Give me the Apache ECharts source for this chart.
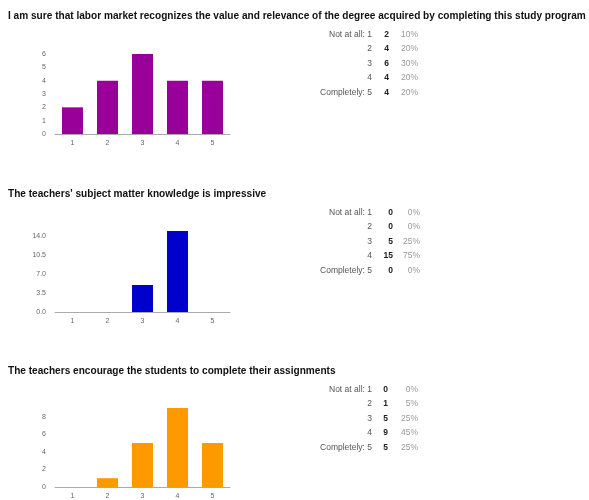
<!DOCTYPE html>
<html>
<head>
<meta charset="utf-8">
<script src="https://cdn.jsdelivr.net/npm/echarts@6/dist/echarts.min.js"></script>
<style>
html,body{margin:0;padding:0;background:#fff;}
#chart{width:589px;height:500px;}
</style>
</head>
<body>
<div id="chart"></div>
<script>
const categories = ['1', '2', '3', '4', '5'];
const rowLabels = ['Not at all: 1', '2', '3', '4', 'Completely: 5'];
const titles = [
  'I am sure that labor market recognizes the value and relevance of the degree acquired by completing this study program',
  "The teachers' subject matter knowledge is impressive",
  'The teachers encourage the students to complete their assignments'
];
const counts1 = [2, 4, 6, 4, 4];
const counts2 = [0, 0, 5, 15, 0];
const counts3 = [0, 1, 5, 9, 5];
const yMax = [6, 15, 9];
const yStep = [1, 3.5, 2];
const yDecimals = [0, 1, 0];
const colors = ['#990099', '#0000cc', '#ff9900'];

const allCounts = [counts1, counts2, counts3];

// layout (pixels)
const titleY = [15, 193, 370];
const gridTop = [54, 231, 408];
const gridH = [80, 81, 82];
const tableTop = [34.5, 212.5, 389.5];
const rowGap = 14.5;
const countX = [389, 393, 388];
const pctX = [418, 420, 418];

const font = 'Arial, "Liberation Sans", sans-serif';

const title = titles.map((t, i) => ({
  text: t,
  left: 8,
  top: titleY[i] - 4,
  padding: 0,
  textStyle: { fontFamily: font, fontSize: 10.1, fontWeight: 'bold', color: '#111' }
}));

const grid = [0, 1, 2].map(i => ({
  left: 55, width: 175, top: gridTop[i], height: gridH[i], containLabel: false
}));

const xAxis = [0, 1, 2].map(i => ({
  type: 'category',
  gridIndex: i,
  data: categories,
  axisLine: { show: true, lineStyle: { color: '#aaa', width: 1 } },
  axisTick: { show: false },
  axisLabel: { fontFamily: font, fontSize: 7, color: '#666', margin: 6 }
}));

const yAxis = [0, 1, 2].map(i => ({
  type: 'value',
  gridIndex: i,
  min: 0,
  max: yMax[i],
  interval: yStep[i],
  axisLine: { show: false },
  axisTick: { show: false },
  splitLine: { show: false },
  axisLabel: {
    fontFamily: font, fontSize: 7, color: '#666', margin: 9,
    showMaxLabel: (yMax[i] / yStep[i]) % 1 === 0,
    formatter: v => Number(v).toFixed(yDecimals[i])
  }
}));

const series = allCounts.map((d, i) => ({
  type: 'bar',
  xAxisIndex: i,
  yAxisIndex: i,
  data: d,
  barCategoryGap: '40%',
  itemStyle: { color: colors[i] },
  silent: true
}));

const graphic = [];
allCounts.forEach((d, i) => {
  const total = d.reduce((a, b) => a + b, 0);
  d.forEach((c, r) => {
    const y = tableTop[i] + r * rowGap;
    graphic.push({
      type: 'text', x: 372, y: y,
      style: { text: rowLabels[r], fontFamily: font, fontSize: 8.5, fill: '#555', align: 'right', verticalAlign: 'middle' }
    });
    graphic.push({
      type: 'text', x: countX[i], y: y,
      style: { text: String(c), fontFamily: font, fontSize: 8.5, fontWeight: 'bold', fill: '#222', align: 'right', verticalAlign: 'middle' }
    });
    graphic.push({
      type: 'text', x: pctX[i], y: y,
      style: { text: Math.round(c / total * 100) + '%', fontFamily: font, fontSize: 8.5, fill: '#999', align: 'right', verticalAlign: 'middle' }
    });
  });
});

const chart = echarts.init(document.getElementById('chart'));
chart.setOption({
  animation: false,
  backgroundColor: '#fff',
  title, grid, xAxis, yAxis, series, graphic
});
</script>
</body>
</html>
